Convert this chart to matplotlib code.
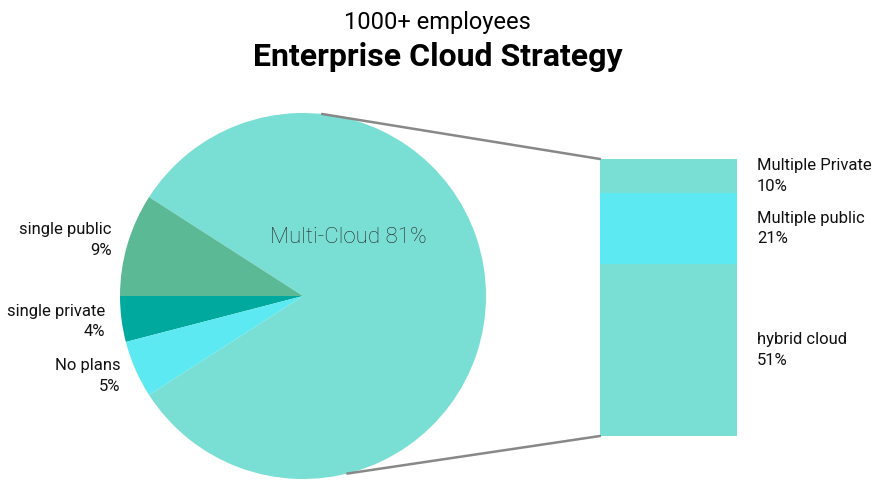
import numpy as np
import matplotlib.pyplot as plt
from matplotlib.patches import ConnectionPatch

plt.rcParams['font.family'] = ['Roboto', 'DejaVu Sans']

# pie data
pie_labels = ['Multi-Cloud', 'single public', 'single private', 'No plans']
pie_values = [81, 9, 4, 5]
pie_colors = ['#79dfd4', '#5bb996', '#00a99d', '#5ce9f2']

# bar data (breakdown of multi-cloud), bottom to top
bar_labels = ['hybrid cloud', 'Multiple public', 'Multiple Private']
bar_values = [51, 21, 10]
bar_colors = ['#79dfd4', '#5ce9f2', '#79dfd4']

fig = plt.figure(figsize=(8.75, 4.82), dpi=100)

# pie
ax1 = fig.add_axes([120 / 875, 3 / 482, 366 / 875, 366 / 482])
start = -pie_values[0] / sum(pie_values) * 180
txt = [''] + [f'{l}\n{v}%' for l, v in zip(pie_labels[1:], pie_values[1:])]
wedges, texts = ax1.pie(pie_values, colors=pie_colors, startangle=start,
                        labels=txt, labeldistance=1.09,
                        textprops={'fontsize': 12, 'color': '#111111',
                                   'linespacing': 1.45})
ax1.set_xlim(-1, 1)
ax1.set_ylim(-1, 1)
ax1.text(0.25, 0.32, f'{pie_labels[0]} {pie_values[0]}%', ha='center', va='center',
         fontsize=16, color='#2a2a2a', fontweight='light')

# bar
ax2 = fig.add_axes([600 / 875, 46 / 482, 137 / 875, 277 / 482])
bottom = 0
for lab, val, col in zip(bar_labels, bar_values, bar_colors):
    ax2.bar(0.5, val, width=1, bottom=bottom, color=col)
    ax2.text(1.146, bottom + val / 2, f'{lab}\n{val}%', ha='left', va='center',
             fontsize=12, color='#111111', linespacing=1.45,
             transform=ax2.get_yaxis_transform())
    bottom += val
ax2.set_xlim(0, 1)
ax2.set_ylim(0, sum(bar_values))
ax2.axis('off')

# connecting lines
for ang, y in [(84, sum(bar_values)), (-76, 0)]:
    a = np.deg2rad(ang)
    con = ConnectionPatch(xyA=(0, y), coordsA=ax2.transData,
                          xyB=(np.cos(a), np.sin(a)), coordsB=ax1.transData,
                          color='#888888', linewidth=1.8)
    fig.add_artist(con)

fig.text(0.5, 1 - 22 / 482, '1000+ employees', ha='center', va='center', fontsize=17)
fig.text(0.5, 1 - 57 / 482, 'Enterprise Cloud Strategy', ha='center', va='center',
         fontsize=23, fontweight='bold')

fig.savefig('out.png', dpi=100)
